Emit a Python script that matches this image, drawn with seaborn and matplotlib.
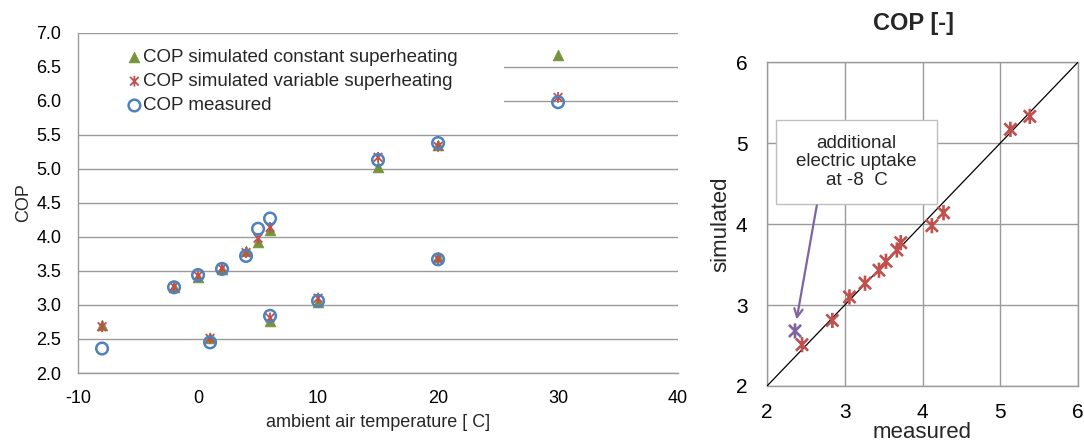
import numpy as np
import pandas as pd
import matplotlib
matplotlib.use("Agg")
import matplotlib.pyplot as plt
from matplotlib.path import Path
from matplotlib.patches import Rectangle
import seaborn as sns

# ---------------- data ----------------
temps = [-8, -2, 0, 1, 2, 4, 5, 6, 6, 10, 15, 20, 20, 30]
cop_constant = [2.70, 3.27, 3.41, 2.51, 3.53, 3.79, 3.93, 4.10, 2.76, 3.04, 5.03, 5.35, 3.70, 6.68]
cop_variable = [2.68, 3.27, 3.43, 2.51, 3.54, 3.77, 3.98, 4.14, 2.81, 3.10, 5.17, 5.33, 3.68, 6.05]
cop_measured = [2.36, 3.26, 3.44, 2.45, 3.53, 3.72, 4.12, 4.27, 2.84, 3.06, 5.13, 5.38, 3.67, 5.98]

series_labels = ["COP simulated constant superheating",
                 "COP simulated variable superheating",
                 "COP measured"]
left_xticks = [-10, 0, 10, 20, 30, 40]
left_yticks = [2.0, 2.5, 3.0, 3.5, 4.0, 4.5, 5.0, 5.5, 6.0, 6.5, 7.0]
right_ticks = [2, 3, 4, 5, 6]
highlight_temp = -8
annotation_text = "additional\nelectric uptake\nat -8  C"

df = pd.DataFrame({"temp": temps, "constant": cop_constant,
                   "variable": cop_variable, "measured": cop_measured})

# ---------------- style ----------------
sns.set_style("white")
plt.rcParams["font.family"] = ["Liberation Sans", "DejaVu Sans"]
plt.rcParams["axes.unicode_minus"] = False

GREEN = "#77933C"
RED = "#C0504D"
BLUE = "#4F81BD"
PURPLE = "#8064A2"
GRID = "#9A9A9A"

star = Path([(-1, -1), (1, 1), (-1, 1), (1, -1), (0, -1.25), (0, 1.25)],
            [Path.MOVETO, Path.LINETO, Path.MOVETO, Path.LINETO, Path.MOVETO, Path.LINETO])

fig = plt.figure(figsize=(10.84, 4.43), dpi=100)
ax1 = fig.add_axes([0.072, 0.158, 0.5535, 0.768])
ax2 = fig.add_axes([0.7076, 0.1287, 0.2869, 0.731])

# ---------------- left chart ----------------
sns.scatterplot(data=df, x="temp", y="constant", ax=ax1, marker="^", s=60,
                color=GREEN, edgecolor=GREEN, linewidth=0.5, label=series_labels[0], zorder=3)
sns.scatterplot(data=df, x="temp", y="variable", ax=ax1, marker=star, s=60,
                facecolor="none", edgecolor=RED, linewidth=1.3, label=series_labels[1], zorder=4)
sns.scatterplot(data=df, x="temp", y="measured", ax=ax1, marker="o", s=70,
                facecolor="none", edgecolor=BLUE, linewidth=1.8, label=series_labels[2], zorder=5)

ax1.set_xlim(-10, 40)
ax1.set_ylim(2.0, 7.0)
ax1.set_xticks(left_xticks)
ax1.set_yticks(left_yticks)
ax1.set_yticklabels([f"{v:.1f}" for v in left_yticks])
ax1.yaxis.grid(True, color=GRID, linewidth=1.0)
ax1.xaxis.grid(False)
ax1.set_axisbelow(True)
for s in ["top", "right"]:
    ax1.spines[s].set_visible(False)
for s in ["left", "bottom"]:
    ax1.spines[s].set_color(GRID)
    ax1.spines[s].set_linewidth(1.0)
ax1.tick_params(axis="both", direction="out", length=5, color=GRID, width=1.0,
                labelsize=13, labelcolor="black", pad=7)
ax1.set_xlabel("ambient air temperature [ C]", fontsize=13, labelpad=5)
ax1.set_ylabel("COP", fontsize=13, labelpad=3)

# white legend area hiding the gridlines
ax1.add_patch(Rectangle((0.0, 0.715), 0.71, 0.275, transform=ax1.transAxes,
                        facecolor="white", edgecolor="none", zorder=1))
leg = ax1.legend(loc="upper left", bbox_to_anchor=(0.083, 0.953), frameon=False,
                 fontsize=13.5, handlelength=0.7, handletextpad=0.1,
                 labelspacing=0.38, borderaxespad=0.0, borderpad=0.0)

# ---------------- right chart ----------------
rdf = df[(df["variable"] <= right_ticks[-1]) & (df["measured"] <= right_ticks[-1])].copy()
rdf["group"] = np.where(rdf["temp"] == highlight_temp, "hl", "normal")
sns.scatterplot(data=rdf[rdf["group"] == "normal"], x="measured", y="variable", ax=ax2,
                marker=star, s=120, facecolor="none", edgecolor=RED, linewidth=1.9,
                legend=False, zorder=4)
sns.scatterplot(data=rdf[rdf["group"] == "hl"], x="measured", y="variable", ax=ax2,
                marker=star, s=120, facecolor="none", edgecolor=PURPLE, linewidth=1.9,
                legend=False, zorder=4)
ax2.plot([right_ticks[0], right_ticks[-1]], [right_ticks[0], right_ticks[-1]],
         color="black", linewidth=0.9, zorder=3)

ax2.set_xlim(2, 6)
ax2.set_ylim(2, 6)
ax2.set_xticks(right_ticks)
ax2.set_yticks(right_ticks)
ax2.grid(True, color=GRID, linewidth=1.0)
ax2.set_axisbelow(True)
for s in ax2.spines.values():
    s.set_color(GRID)
    s.set_linewidth(1.0)
ax2.tick_params(axis="both", direction="out", length=5, color=GRID, width=1.0,
                labelsize=15, labelcolor="black", pad=7)
ax2.tick_params(axis="y", pad=9)
ax2.set_xlabel("measured", fontsize=16, labelpad=0)
ax2.set_ylabel("simulated", fontsize=16, labelpad=3)
ax2.set_title("COP [-]", fontsize=17, fontweight="bold", pad=23, x=0.47)

# annotation box
ax2.add_patch(Rectangle((2.116, 4.25), 4.19 - 2.116, 5.28 - 4.25,
                        facecolor="white", edgecolor="#BFBFBF", linewidth=1.0, zorder=6))
ax2.text(3.15, 4.77, annotation_text, ha="center", va="center", fontsize=13.5,
         linespacing=1.12, zorder=7)
ax2.annotate("", xy=(2.38, 2.82), xytext=(2.64, 4.23),
             arrowprops=dict(arrowstyle="->,head_length=0.6,head_width=0.3",
                             color=PURPLE, linewidth=1.6, shrinkA=0, shrinkB=0),
             zorder=6)

fig.savefig("out.png", dpi=100)
